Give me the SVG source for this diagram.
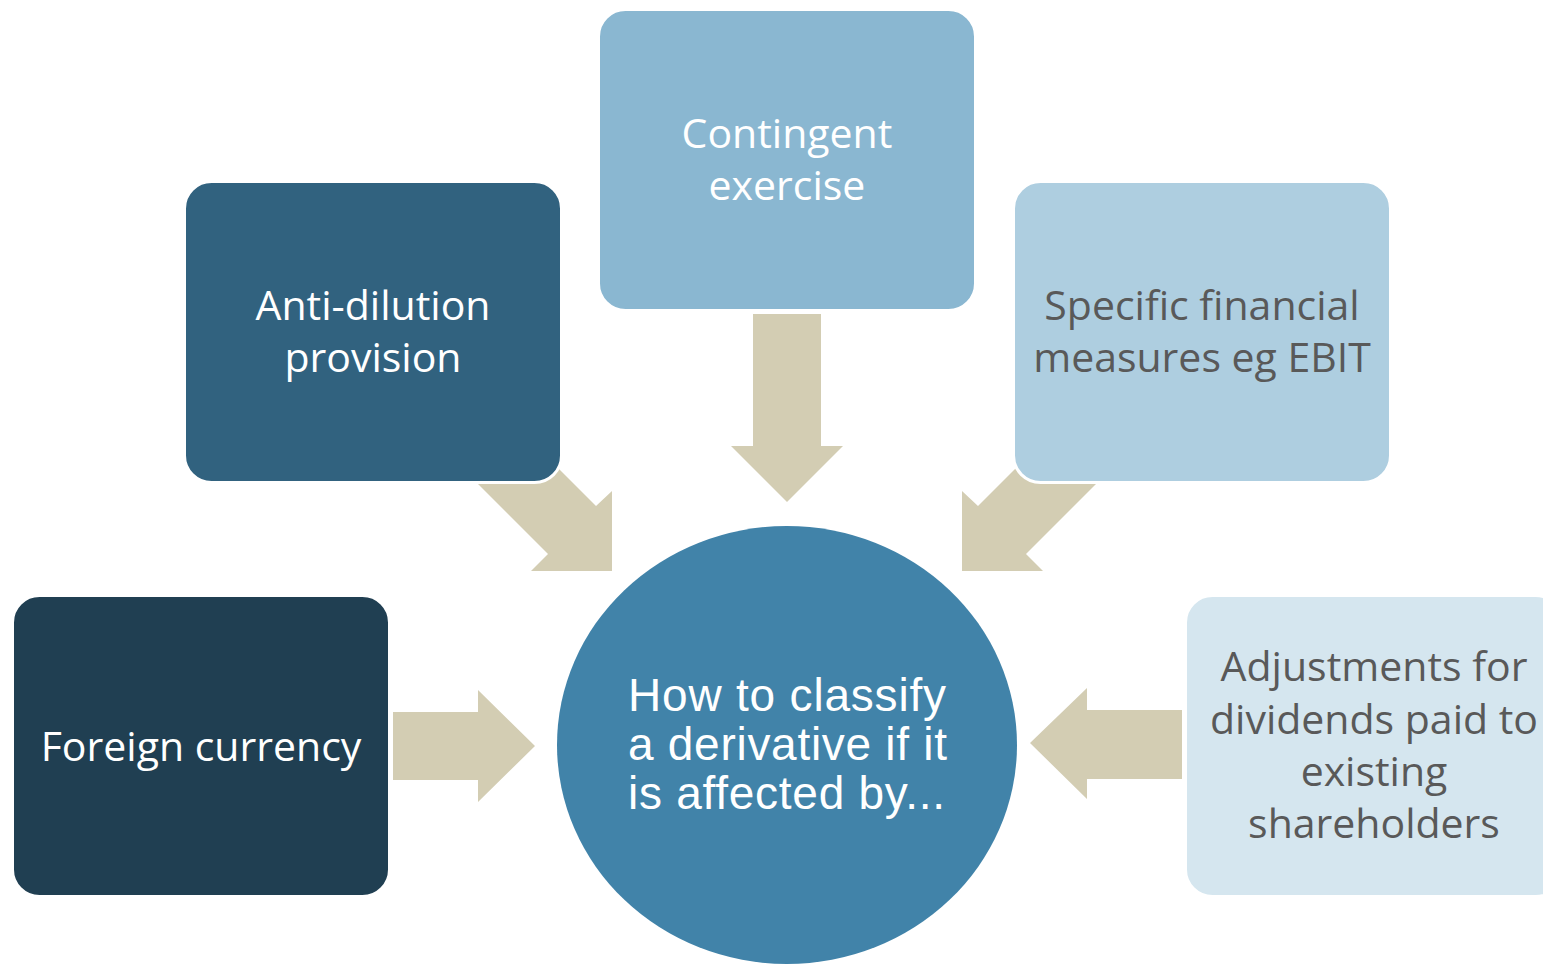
<svg xmlns="http://www.w3.org/2000/svg" width="1543" height="964" viewBox="0 0 1543 964">
  <style>
    .box { stroke: #ffffff; stroke-width: 3; }
    .arrow { fill: #d3cdb3; }
    .lbl { font-family: "Open Sans", "Noto Sans", sans-serif; font-size: 41px; text-anchor: middle; }
    .light { fill: #ffffff; }
    .dark { fill: #595959; }
    .hub { font-family: "Liberation Sans", Arial, sans-serif; font-size: 46px; fill: #ffffff; }
  </style>
  <rect width="1543" height="964" fill="#ffffff"/>

  <!-- block arrows pointing into the hub -->
  <g id="connectors">
    <polygon class="arrow" points="753,314 821,314 821,446 843,446 787,502 731,446 753,446"/>
    <polygon class="arrow" points="466,376 596,506 612,491 612,571 531,571 548,554 418,424"/>
    <polygon class="arrow" points="1108,376 978,506 962,491 962,571 1043,571 1026,554 1156,424"/>
    <polygon class="arrow" points="393,712 478,712 478,690 535,746 478,802 478,780 393,780"/>
    <polygon class="arrow" points="1182,710 1087,710 1087,688 1030,743 1087,799 1087,779 1182,779"/>
  </g>

  <g id="node-contingent">
    <rect class="box" x="598.5" y="9.5" width="377" height="301" rx="27" fill="#8ab7d1"/>
    <text class="lbl light" x="787" y="148">Contingent</text>
    <text class="lbl light" x="787" y="200">exercise</text>
  </g>

  <g id="node-antidilution">
    <rect class="box" x="184.5" y="181.5" width="377" height="301" rx="27" fill="#31627f"/>
    <text class="lbl light" x="373" y="320">Anti-dilution</text>
    <text class="lbl light" x="373" y="372">provision</text>
  </g>

  <g id="node-financial">
    <rect class="box" x="1013.5" y="181.5" width="377" height="301" rx="27" fill="#aecee0"/>
    <text class="lbl dark" x="1202" y="320">Specific financial</text>
    <text class="lbl dark" x="1202" y="372">measures eg EBIT</text>
  </g>

  <g id="node-currency">
    <rect class="box" x="12.5" y="595.5" width="377" height="301" rx="27" fill="#203f52"/>
    <text class="lbl light" x="201" y="761">Foreign currency</text>
  </g>

  <g id="node-dividends">
    <rect class="box" x="1185.5" y="595.5" width="377" height="301" rx="27" fill="#d5e6ef"/>
    <text class="lbl dark" x="1374" y="681">Adjustments for</text>
    <text class="lbl dark" x="1374" y="734">dividends paid to</text>
    <text class="lbl dark" x="1374" y="786">existing</text>
    <text class="lbl dark" x="1374" y="838">shareholders</text>
  </g>

  <g id="node-hub">
    <ellipse cx="787" cy="745" rx="230" ry="219" fill="#4183a9"/>
    <text class="hub" x="628" y="711" textLength="318" lengthAdjust="spacing">How to classify</text>
    <text class="hub" x="628" y="760" textLength="319" lengthAdjust="spacing">a derivative if it</text>
    <text class="hub" x="628" y="809" textLength="317" lengthAdjust="spacing">is affected by...</text>
  </g>
</svg>
